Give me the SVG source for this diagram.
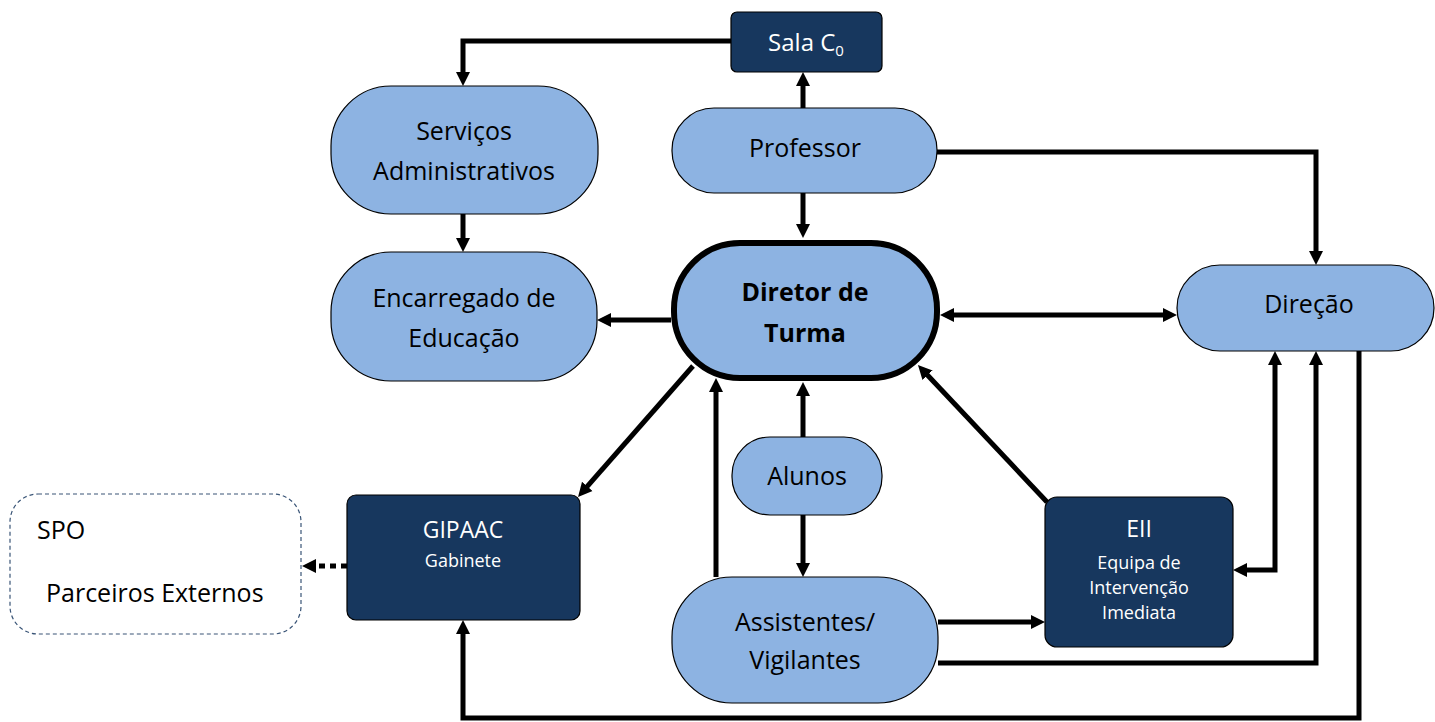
<svg xmlns="http://www.w3.org/2000/svg" width="1435" height="722" viewBox="0 0 1435 722">
<style>
.lb{fill:#8db3e2;stroke:#000;stroke-width:1.2}
.dk{fill:#17375e;stroke:#000;stroke-width:1.2}
.t{font-family:"Open Sans","Noto Sans",sans-serif;font-size:25px;fill:#000;text-anchor:middle}
.ts{font-family:"Open Sans","Noto Sans",sans-serif;font-size:25px;fill:#000;text-anchor:start}
.w{font-family:"Open Sans","Noto Sans",sans-serif;fill:#fff;text-anchor:middle}
.c{fill:none;stroke:#000;stroke-width:5}
</style>
<defs>
<marker id="ah" markerUnits="userSpaceOnUse" markerWidth="16" markerHeight="16" refX="3" refY="8" orient="auto-start-reverse" viewBox="0 0 16 16">
<path d="M0,1 L14,8 L0,15 z" fill="#000"/>
</marker>
</defs>
<g id="connectors">
<path class="c" d="M731,41 H463 V75" marker-end="url(#ah)"/>
<path class="c" d="M803,108 V83" marker-end="url(#ah)"/>
<path class="c" d="M803,193 V227" marker-end="url(#ah)"/>
<path class="c" d="M463,214 V241" marker-end="url(#ah)"/>
<path class="c" d="M671,320 H608" marker-end="url(#ah)"/>
<path class="c" d="M951,315 H1166" marker-start="url(#ah)" marker-end="url(#ah)"/>
<path class="c" d="M937,152 H1316 V254" marker-end="url(#ah)"/>
<path class="c" d="M803,437 V393" marker-end="url(#ah)"/>
<path class="c" d="M803,515 V566" marker-end="url(#ah)"/>
<path class="c" d="M716,577 V389" marker-end="url(#ah)"/>
<path class="c" d="M693,366 L585.3,488.7" marker-end="url(#ah)"/>
<path class="c" d="M1047,502 L925.5,373" marker-end="url(#ah)"/>
<path class="c" d="M347,566 H313" stroke-dasharray="6,5" marker-end="url(#ah)"/>
<path class="c" d="M938,622 H1034" marker-end="url(#ah)"/>
<path class="c" d="M938,663 H1316 V362" marker-end="url(#ah)"/>
<path class="c" d="M1244,570 H1275 V362" marker-start="url(#ah)" marker-end="url(#ah)"/>
<path class="c" d="M1359,351 V718 H463 V631" marker-end="url(#ah)"/>
</g>
<g id="sala">
<rect class="dk" x="731" y="12" width="151" height="60" rx="6"/>
<text class="w" x="806" y="51" font-size="24">Sala C<tspan font-size="15" dy="5">0</tspan></text>
</g>
<g id="servicos">
<rect class="lb" x="331" y="86" width="267" height="128" rx="60"/>
<text class="t" x="464" y="140">Serviços</text>
<text class="t" x="464" y="180">Administrativos</text>
</g>
<g id="professor">
<rect class="lb" x="672" y="108" width="265" height="85" rx="42"/>
<text class="t" x="805" y="157">Professor</text>
</g>
<g id="encarregado">
<rect class="lb" x="331" y="252" width="266" height="129" rx="60"/>
<text class="t" x="464" y="307">Encarregado de</text>
<text class="t" x="464" y="347">Educação</text>
</g>
<g id="diretor">
<rect x="674" y="243" width="263" height="135" rx="66" fill="#8db3e2" stroke="#000" stroke-width="6"/>
<text class="t" x="805" y="301" font-size="24" font-weight="bold">Diretor de</text>
<text class="t" x="805" y="342" font-size="24" font-weight="bold">Turma</text>
</g>
<g id="direcao">
<rect class="lb" x="1177" y="265" width="257" height="86" rx="43"/>
<text class="t" x="1309" y="313">Direção</text>
</g>
<g id="alunos">
<rect class="lb" x="732" y="437" width="150" height="78" rx="38"/>
<text class="t" x="807" y="485">Alunos</text>
</g>
<g id="assistentes">
<rect class="lb" x="672" y="577" width="266" height="126" rx="60"/>
<text class="t" x="805" y="631">Assistentes/</text>
<text class="t" x="805" y="669">Vigilantes</text>
</g>
<g id="gipaac">
<rect class="dk" x="347" y="495" width="233" height="125" rx="9"/>
<text class="w" x="463" y="538" font-size="23">GIPAAC</text>
<text class="w" x="463" y="567" font-size="18">Gabinete</text>
</g>
<g id="eii">
<rect class="dk" x="1045" y="497" width="188" height="150" rx="12"/>
<text class="w" x="1139" y="537" font-size="23">EII</text>
<text class="w" x="1139" y="569" font-size="18">Equipa de</text>
<text class="w" x="1139" y="594" font-size="18">Intervenção</text>
<text class="w" x="1139" y="619" font-size="18">Imediata</text>
</g>
<g id="spo">
<rect x="10" y="494" width="291" height="140" rx="28" fill="#fff" stroke="#3a5577" stroke-width="1.2" stroke-dasharray="4,3"/>
<text class="ts" x="37" y="539">SPO</text>
<text class="ts" x="46" y="602">Parceiros Externos</text>
</g>
</svg>
